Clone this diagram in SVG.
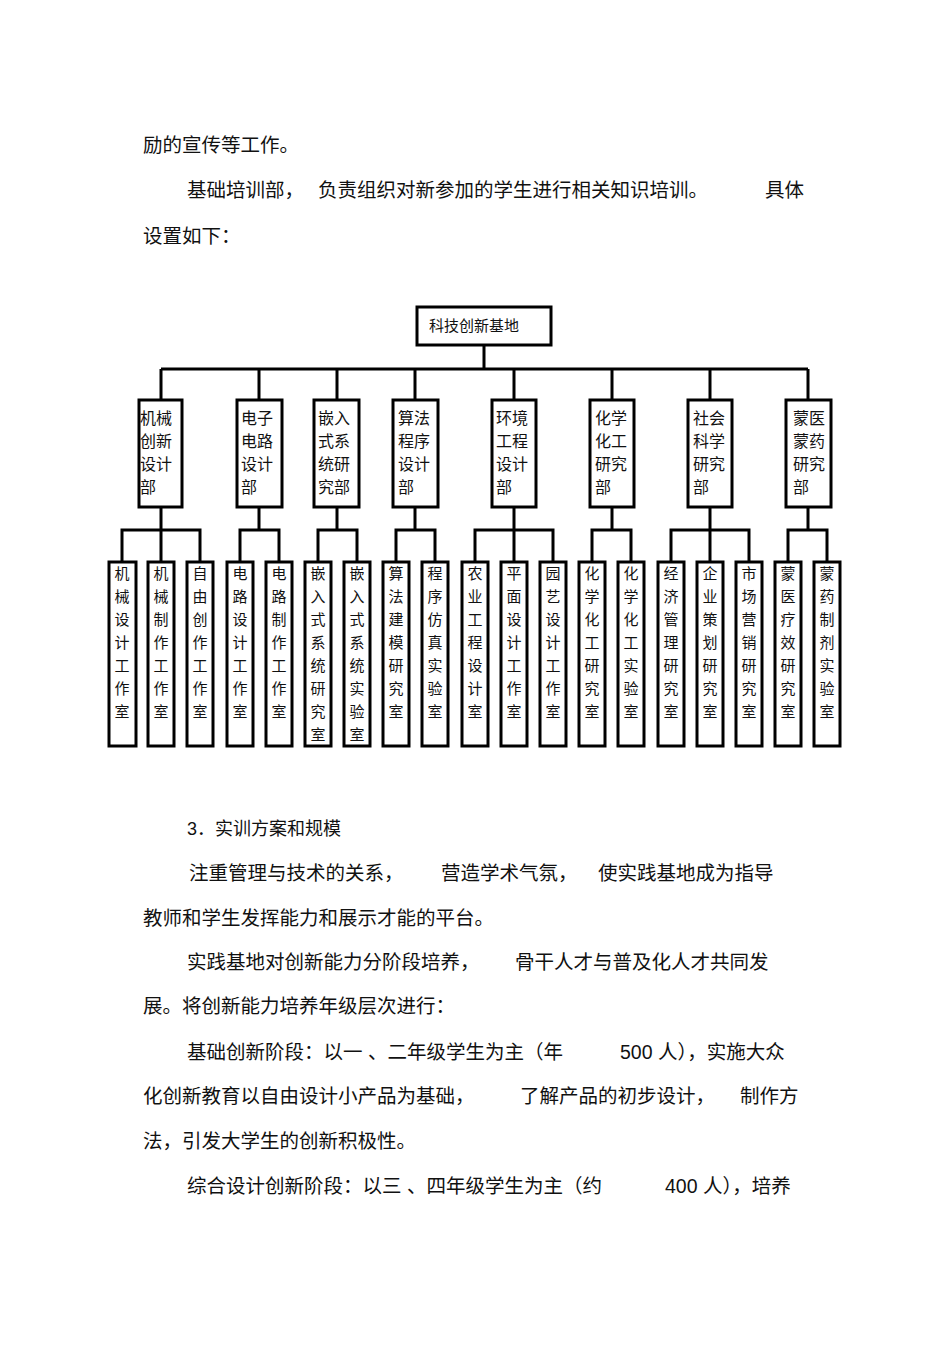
<svg xmlns="http://www.w3.org/2000/svg" width="950" height="1345" viewBox="0 0 950 1345">
<style>
.t{font-family:"Liberation Sans","Noto Sans CJK SC",sans-serif;font-size:19.5px;fill:#111}
.n{font-family:"Noto Sans CJK SC",sans-serif;font-size:15px;fill:#111}
.d{font-family:"Noto Sans CJK SC",sans-serif;font-size:16px;fill:#111}
.b{fill:#fff;stroke:#000;stroke-width:3}
.c{fill:none;stroke:#000;stroke-width:3}
</style>
<rect width="950" height="1345" fill="#fff"/>
<g id="body">
<text class="t" x="143" y="152">励的宣传等工作。</text>
<text class="t" x="187" y="197">基础培训部，</text>
<text class="t" x="318" y="197">负责组织对新参加的学生进行相关知识培训。</text>
<text class="t" x="765" y="197">具体</text>
<text class="t" x="143" y="243">设置如下：</text>
<text class="t" x="187" y="835" style="font-size:18px">3．实训方案和规模</text>
<text class="t" x="189" y="880">注重管理与技术的关系，</text>
<text class="t" x="441" y="880">营造学术气氛，</text>
<text class="t" x="598" y="880">使实践基地成为指导</text>
<text class="t" x="143" y="925">教师和学生发挥能力和展示才能的平台。</text>
<text class="t" x="187" y="969">实践基地对创新能力分阶段培养，</text>
<text class="t" x="515" y="969">骨干人才与普及化人才共同发</text>
<text class="t" x="143" y="1013">展。将创新能力培养年级层次进行：</text>
<text class="t" x="187" y="1059">基础创新阶段：以一 、二年级学生为主（年</text>
<text class="t" x="620" y="1059">500 人），实施大众</text>
<text class="t" x="143" y="1103">化创新教育以自由设计小产品为基础，</text>
<text class="t" x="520" y="1103">了解产品的初步设计，</text>
<text class="t" x="740" y="1103">制作方</text>
<text class="t" x="143" y="1148">法，引发大学生的创新积极性。</text>
<text class="t" x="187" y="1193">综合设计创新阶段：以三 、四年级学生为主（约</text>
<text class="t" x="665" y="1193">400 人），培养</text>
</g>
<g id="connectors" class="c">
<path d="M484 345V369M161 369H808M161 369V400M259 369V400M337 369V400M415 369V400M514 369V400M612 369V400M710 369V400M808 369V400"/>
<path d="M161 507V530M122 562V530H200V562M161 530V562"/>
<path d="M259 507V530M240 562V530H279V562"/>
<path d="M337 507V530M318 562V530H357V562"/>
<path d="M415 507V530M396 562V530H435V562"/>
<path d="M514 507V530M475 562V530H553V562M514 530V562"/>
<path d="M612 507V530M592 562V530H631V562"/>
<path d="M710 507V530M671 562V530H749V562M710 530V562"/>
<path d="M808 507V530M788 562V530H827V562"/>
</g>
<g id="root"><rect class="b" x="417" y="307" width="134" height="38"/><text class="n" x="429" y="331">科技创新基地</text></g>
<g id="d1"><rect class="b" x="139" y="400" width="43" height="107"/><text class="d" x="140" y="424">机械</text><text class="d" x="140" y="447">创新</text><text class="d" x="140" y="470">设计</text><text class="d" x="140" y="493">部</text></g>
<g id="d2"><rect class="b" x="237" y="400" width="45" height="107"/><text class="d" x="241" y="424">电子</text><text class="d" x="241" y="447">电路</text><text class="d" x="241" y="470">设计</text><text class="d" x="241" y="493">部</text></g>
<g id="d3"><rect class="b" x="314" y="400" width="45" height="107"/><text class="d" x="318" y="424">嵌入</text><text class="d" x="318" y="447">式系</text><text class="d" x="318" y="470">统研</text><text class="d" x="318" y="493">究部</text></g>
<g id="d4"><rect class="b" x="393" y="400" width="45" height="107"/><text class="d" x="398" y="424">算法</text><text class="d" x="398" y="447">程序</text><text class="d" x="398" y="470">设计</text><text class="d" x="398" y="493">部</text></g>
<g id="d5"><rect class="b" x="492" y="400" width="44" height="107"/><text class="d" x="496" y="424">环境</text><text class="d" x="496" y="447">工程</text><text class="d" x="496" y="470">设计</text><text class="d" x="496" y="493">部</text></g>
<g id="d6"><rect class="b" x="590" y="400" width="44" height="107"/><text class="d" x="595" y="424">化学</text><text class="d" x="595" y="447">化工</text><text class="d" x="595" y="470">研究</text><text class="d" x="595" y="493">部</text></g>
<g id="d7"><rect class="b" x="688" y="400" width="44" height="107"/><text class="d" x="693" y="424">社会</text><text class="d" x="693" y="447">科学</text><text class="d" x="693" y="470">研究</text><text class="d" x="693" y="493">部</text></g>
<g id="d8"><rect class="b" x="786" y="400" width="45" height="107"/><text class="d" x="793" y="424">蒙医</text><text class="d" x="793" y="447">蒙药</text><text class="d" x="793" y="470">研究</text><text class="d" x="793" y="493">部</text></g>
<g id="leaves">
<g id="l1"><rect class="b" x="109" y="562" width="27" height="184"/><text class="n" x="122" text-anchor="middle"><tspan x="122" y="579">机</tspan><tspan x="122" y="602">械</tspan><tspan x="122" y="625">设</tspan><tspan x="122" y="648">计</tspan><tspan x="122" y="671">工</tspan><tspan x="122" y="694">作</tspan><tspan x="122" y="717">室</tspan></text></g>
<g id="l2"><rect class="b" x="148" y="562" width="26" height="184"/><text class="n" text-anchor="middle"><tspan x="161" y="579">机</tspan><tspan x="161" y="602">械</tspan><tspan x="161" y="625">制</tspan><tspan x="161" y="648">作</tspan><tspan x="161" y="671">工</tspan><tspan x="161" y="694">作</tspan><tspan x="161" y="717">室</tspan></text></g>
<g id="l3"><rect class="b" x="187" y="562" width="26" height="184"/><text class="n" text-anchor="middle"><tspan x="200" y="579">自</tspan><tspan x="200" y="602">由</tspan><tspan x="200" y="625">创</tspan><tspan x="200" y="648">作</tspan><tspan x="200" y="671">工</tspan><tspan x="200" y="694">作</tspan><tspan x="200" y="717">室</tspan></text></g>
<g id="l4"><rect class="b" x="227" y="562" width="26" height="184"/><text class="n" text-anchor="middle"><tspan x="240" y="579">电</tspan><tspan x="240" y="602">路</tspan><tspan x="240" y="625">设</tspan><tspan x="240" y="648">计</tspan><tspan x="240" y="671">工</tspan><tspan x="240" y="694">作</tspan><tspan x="240" y="717">室</tspan></text></g>
<g id="l5"><rect class="b" x="266" y="562" width="26" height="184"/><text class="n" text-anchor="middle"><tspan x="279" y="579">电</tspan><tspan x="279" y="602">路</tspan><tspan x="279" y="625">制</tspan><tspan x="279" y="648">作</tspan><tspan x="279" y="671">工</tspan><tspan x="279" y="694">作</tspan><tspan x="279" y="717">室</tspan></text></g>
<g id="l6"><rect class="b" x="305" y="562" width="26" height="184"/><text class="n" text-anchor="middle"><tspan x="318" y="579">嵌</tspan><tspan x="318" y="602">入</tspan><tspan x="318" y="625">式</tspan><tspan x="318" y="648">系</tspan><tspan x="318" y="671">统</tspan><tspan x="318" y="694">研</tspan><tspan x="318" y="717">究</tspan><tspan x="318" y="740">室</tspan></text></g>
<g id="l7"><rect class="b" x="344" y="562" width="26" height="184"/><text class="n" text-anchor="middle"><tspan x="357" y="579">嵌</tspan><tspan x="357" y="602">入</tspan><tspan x="357" y="625">式</tspan><tspan x="357" y="648">系</tspan><tspan x="357" y="671">统</tspan><tspan x="357" y="694">实</tspan><tspan x="357" y="717">验</tspan><tspan x="357" y="740">室</tspan></text></g>
<g id="l8"><rect class="b" x="383" y="562" width="26" height="184"/><text class="n" text-anchor="middle"><tspan x="396" y="579">算</tspan><tspan x="396" y="602">法</tspan><tspan x="396" y="625">建</tspan><tspan x="396" y="648">模</tspan><tspan x="396" y="671">研</tspan><tspan x="396" y="694">究</tspan><tspan x="396" y="717">室</tspan></text></g>
<g id="l9"><rect class="b" x="422" y="562" width="26" height="184"/><text class="n" text-anchor="middle"><tspan x="435" y="579">程</tspan><tspan x="435" y="602">序</tspan><tspan x="435" y="625">仿</tspan><tspan x="435" y="648">真</tspan><tspan x="435" y="671">实</tspan><tspan x="435" y="694">验</tspan><tspan x="435" y="717">室</tspan></text></g>
<g id="l10"><rect class="b" x="462" y="562" width="26" height="184"/><text class="n" text-anchor="middle"><tspan x="475" y="579">农</tspan><tspan x="475" y="602">业</tspan><tspan x="475" y="625">工</tspan><tspan x="475" y="648">程</tspan><tspan x="475" y="671">设</tspan><tspan x="475" y="694">计</tspan><tspan x="475" y="717">室</tspan></text></g>
<g id="l11"><rect class="b" x="501" y="562" width="26" height="184"/><text class="n" text-anchor="middle"><tspan x="514" y="579">平</tspan><tspan x="514" y="602">面</tspan><tspan x="514" y="625">设</tspan><tspan x="514" y="648">计</tspan><tspan x="514" y="671">工</tspan><tspan x="514" y="694">作</tspan><tspan x="514" y="717">室</tspan></text></g>
<g id="l12"><rect class="b" x="540" y="562" width="26" height="184"/><text class="n" text-anchor="middle"><tspan x="553" y="579">园</tspan><tspan x="553" y="602">艺</tspan><tspan x="553" y="625">设</tspan><tspan x="553" y="648">计</tspan><tspan x="553" y="671">工</tspan><tspan x="553" y="694">作</tspan><tspan x="553" y="717">室</tspan></text></g>
<g id="l13"><rect class="b" x="579" y="562" width="26" height="184"/><text class="n" text-anchor="middle"><tspan x="592" y="579">化</tspan><tspan x="592" y="602">学</tspan><tspan x="592" y="625">化</tspan><tspan x="592" y="648">工</tspan><tspan x="592" y="671">研</tspan><tspan x="592" y="694">究</tspan><tspan x="592" y="717">室</tspan></text></g>
<g id="l14"><rect class="b" x="618" y="562" width="26" height="184"/><text class="n" text-anchor="middle"><tspan x="631" y="579">化</tspan><tspan x="631" y="602">学</tspan><tspan x="631" y="625">化</tspan><tspan x="631" y="648">工</tspan><tspan x="631" y="671">实</tspan><tspan x="631" y="694">验</tspan><tspan x="631" y="717">室</tspan></text></g>
<g id="l15"><rect class="b" x="658" y="562" width="26" height="184"/><text class="n" text-anchor="middle"><tspan x="671" y="579">经</tspan><tspan x="671" y="602">济</tspan><tspan x="671" y="625">管</tspan><tspan x="671" y="648">理</tspan><tspan x="671" y="671">研</tspan><tspan x="671" y="694">究</tspan><tspan x="671" y="717">室</tspan></text></g>
<g id="l16"><rect class="b" x="697" y="562" width="26" height="184"/><text class="n" text-anchor="middle"><tspan x="710" y="579">企</tspan><tspan x="710" y="602">业</tspan><tspan x="710" y="625">策</tspan><tspan x="710" y="648">划</tspan><tspan x="710" y="671">研</tspan><tspan x="710" y="694">究</tspan><tspan x="710" y="717">室</tspan></text></g>
<g id="l17"><rect class="b" x="736" y="562" width="26" height="184"/><text class="n" text-anchor="middle"><tspan x="749" y="579">市</tspan><tspan x="749" y="602">场</tspan><tspan x="749" y="625">营</tspan><tspan x="749" y="648">销</tspan><tspan x="749" y="671">研</tspan><tspan x="749" y="694">究</tspan><tspan x="749" y="717">室</tspan></text></g>
<g id="l18"><rect class="b" x="775" y="562" width="26" height="184"/><text class="n" text-anchor="middle"><tspan x="788" y="579">蒙</tspan><tspan x="788" y="602">医</tspan><tspan x="788" y="625">疗</tspan><tspan x="788" y="648">效</tspan><tspan x="788" y="671">研</tspan><tspan x="788" y="694">究</tspan><tspan x="788" y="717">室</tspan></text></g>
<g id="l19"><rect class="b" x="814" y="562" width="26" height="184"/><text class="n" text-anchor="middle"><tspan x="827" y="579">蒙</tspan><tspan x="827" y="602">药</tspan><tspan x="827" y="625">制</tspan><tspan x="827" y="648">剂</tspan><tspan x="827" y="671">实</tspan><tspan x="827" y="694">验</tspan><tspan x="827" y="717">室</tspan></text></g>
</g>
</svg>
